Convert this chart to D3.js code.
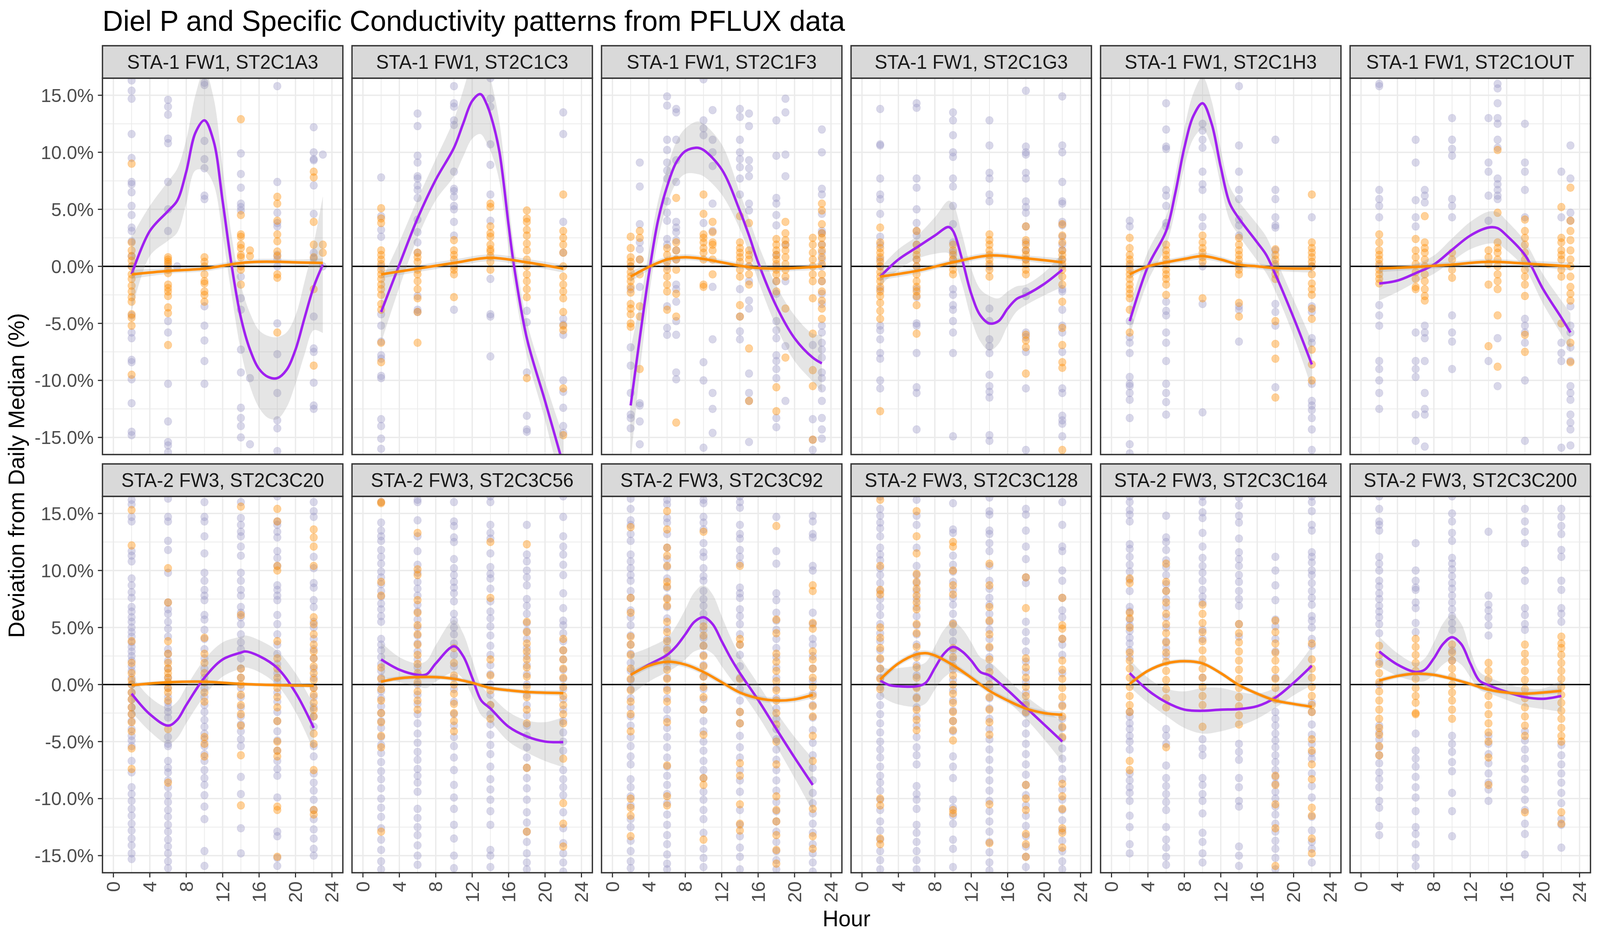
<!DOCTYPE html>
<html>
<head>
<meta charset="utf-8">
<script src="https://cdn.jsdelivr.net/npm/d3@7"></script>
<style>
  html, body { margin: 0; padding: 0; width: 100%; height: 100%; overflow: hidden; background: #fff; }
  svg { display: block; }
  text { font-family: "Liberation Sans", Arial, sans-serif; }
</style>
</head>
<body>
<svg id="chart" viewBox="0 0 4200 2400" width="100%" height="100%" preserveAspectRatio="none"></svg>
<script>
// facet labels, in plotting order
const panelNames = [
  'STA-1 FW1, ST2C1A3', 'STA-1 FW1, ST2C1C3', 'STA-1 FW1, ST2C1F3',
  'STA-1 FW1, ST2C1G3', 'STA-1 FW1, ST2C1H3', 'STA-1 FW1, ST2C1OUT',
  'STA-2 FW3, ST2C3C20', 'STA-2 FW3, ST2C3C56', 'STA-2 FW3, ST2C3C92',
  'STA-2 FW3, ST2C3C128', 'STA-2 FW3, ST2C3C164', 'STA-2 FW3, ST2C3C200'
];
const hourTicks = [0, 4, 8, 12, 16, 20, 24];
const hourMinor = [2, 6, 10, 14, 18, 22];
const pctTicks = [-15, -10, -5, 0, 5, 10, 15];
const pctMinor = [-12.5, -7.5, -2.5, 2.5, 7.5, 12.5];

// observations: [hour, [deviation %]]  (P = phosphorus, S = specific conductivity)
const pA3 = [[2,[16.3,15.4,14.7,11.6,9.5,7.4,7.2,6.5,5.3,4.5,3.4,3.1,2.2,0.9,0,-4.3,-5.8,-6.3,-8.2,-8.4,-9.9,-12,-14.5,-14.8]],
  [6,[14.6,14.0,13.3,11.2,10.8,7.4,5.0,3.1,0,-4.8,-5.8,-10.3,-13.6,-15.4,-15.7,-16.3]],[7,[0]],
  [10,[16.1,15.9,11.0,9.4,8.6,6.2,5.9,-3.5,-5.2,-6.5,-8.3,-10.3]],
  [14,[9.9,8.1,6.9,5.5,5.2,4.9,-0.9,-2.8,-3.8,-7.3,-9.3,-12.4,-13.3,-14.0,-15.0]],[15,[-9.8,-15.6]],
  [18,[15.8,7.4,4.7,3.8,3.5,1.0,0.6,0,-5.0,-7.7,-11.1,-13.5,-14.2,-16.2]],
  [22,[12.2,10.0,9.4,9.3,7.1,4.6,1.2,0.7,-4.4,-7.2,-7.5,-10.2,-12.2,-12.5]],[23,[9.8,0]]];
const sA3 = [[2,[9.0,2.1,1.4,0.9,0.5,0,-0.7,-1.1,-1.7,-2.2,-2.7,-3.1,-4.2,-4.5,-5.2,-9.5]],
  [6,[0.8,0.6,0.4,0.2,-0.3,-0.6,-1.6,-1.9,-2.2,-2.6,-3.6,-4.1,-6.9]],
  [10,[0.8,0.4,0,-0.7,-1.3,-1.5,-2.2,-2.5,-3.1]],
  [14,[12.9,4.5,2.8,2.6,1.9,1.6,1.0,0.8,0,-0.3,-1.6]],[15,[1.4,0.9]],
  [18,[6.1,5.5,4.0,2.8,2.2,1.3,0.9,-0.7,-1.0,-5.8]],
  [22,[8.3,7.8,3.9,1.9,0.8,-2.0,-8.7]],[23,[1.9,1.2]]];

const pC1C3 = [[2,[7.8,4.4,3.2,2.6,0,-4.2,-5.2,-6.6,-7.8,-8.1,-9.6,-9.8,-13.4,-14.0,-15.1,-16.0]],
  [6,[13.4,12.3,9.7,9.1,7.9,7.7,7.1,6.7,6.0,4.1,3.0,2.1,1.2,-2.6,-3.8,-4.0]],
  [10,[15.8,14.3,14.0,12.8,12.4,8.3,6.8,6.6,6.1,5.3,5.0,3.9,2.7,-3.8]],
  [14,[16.5,14.7,14.0,10.7,8.9,6.3,4.0,-1.1,-4.2,-4.4,-7.9]],
  [18,[-3.9,-4.9,-9.3,-13.1,-14.3,-14.5]],
  [22,[13.5,11.6,3.9,1.2,-4.6,-5.1,-6.0,-10.0,-11.0,-12.4,-14.0,-14.6]]];
const sC1C3 = [[2,[5.1,4.2,3.8,1.4,1.0,0.6,0.2,-0.3,-0.7,-1.1,-1.6,-2.0,-2.5,-3.3,-3.8,-6.7,-8.4]],
  [6,[1.2,0.8,0.4,-0.3,-0.7,-1.3,-2.0,-2.8,-4.0,-6.7]],
  [10,[2.3,1.4,1.0,0.6,0,-0.3,-0.7,-2.7]],
  [14,[5.5,5.2,3.5,2.9,2.6,1.9,1.5,1.3,0.9,0.4,-0.3]],
  [18,[4.9,4.2,3.9,3.2,2.7,2.0,1.4,0.6,0,-0.7,-1.3,-2.0,-2.7,-9.8]],
  [22,[6.3,3.1,2.5,1.9,1.2,0,-0.9,-1.6,-2.2,-2.8,-4.0,-5.2,-5.6,-10.7,-14.8]]];

const pF3 = [[2,[0,-2.0,-7.1,-8.7,-11.1,-13.0,-13.3,-14.2]],
  [3,[9.1,7.0,3.7,2.1,1.5,0.6,-1.8,-12.0,-12.2,-13.6,-15.6]],
  [6,[14.9,14.1,11.1,10.2,9.1,8.4,7.7,5.7,4.7,4.0,2.4,1.9,0,-3.5,-5.4,-6.0]],
  [7,[13.8,13.5,11.1,9.3,7.4,3.9,3.4,3.0,2.3,1.4,0.6,-1.6,-2.0,-3.1,-4.8,-6.0,-9.3,-9.9]],
  [10,[16.4,12.8,12.1,11.5,3.8,-8.4,-10.0,-15.9]],
  [11,[13.7,11.1,10.0,8.8,5.5,3.1,-1.8,-6.4,-11.1,-12.5,-14.6]],
  [14,[13.8,13.1,11.1,10.0,9.4,8.7,7.7,6.3,-2.0,-4.4,-5.7,-6.4]],
  [15,[13.4,12.3,9.3,8.6,7.9,5.5,4.9,0,-1.3,-3.0,-3.7,-9.4,-11.1,-11.8,-15.4]],
  [18,[12.8,9.7,6.0,5.5,4.5,3.6,1.0,0,-1.3,-2.4,-4.8,-5.6,-6.3,-7.8,-8.3,-9.0,-9.8,-13.3,-14.1]],
  [19,[14.7,13.5,9.8,7.9,1.9,-1.3,-7.0,-11.8]],
  [22,[-6.9,-13.4,-15.2,-16.1]],
  [23,[12.0,10.0,6.8,6.3,4.6,3.1,2.9,1.9,1.2,0.6,0,-1.3,-2.4,-3.3,-5.2,-5.8,-6.7,-7.3,-8.0,-9.3,-9.8,-10.7,-11.8,-13.3,-14.3,-15.1]]];
const sF3 = [[2,[2.6,1.6,0.8,0.4,0,-0.5,-0.9,-1.3,-1.8,-2.3,-3.3,-3.7,-4.2,-5.0,-5.3]],
  [3,[3.1,2.5,0.6,-0.7,-3.5,-4.4,-9.0]],
  [6,[1.6,1.0,0.4,-0.3,-0.9,-1.6,-2.2,-3.8]],
  [7,[6.0,2.1,1.4,0.6,-0.3,-2.4,-4.4,-13.7]],
  [10,[6.3,4.6,2.8,2.5,2.1,1.6,1.2,0.6,-1.6,-1.8]],
  [11,[3.9,3.0,2.1,1.9,1.4,0.6,-0.7]],
  [14,[4.4,2.1,1.6,1.2,0.8,0.4,-0.3,-0.9,-3.4,-4.4]],
  [15,[3.8,1.4,1.0,0.6,0,-0.7,-1.6,-7.2,-11.8]],
  [18,[2.4,1.9,1.4,1.0,0.6,0.2,-0.3,-0.7,-1.3,-2.2,-10.6,-12.7]],
  [19,[3.9,2.9,2.3,1.9,1.4,0.8,0.2,-0.3,-0.9,-3.7,-8.0]],
  [22,[2.5,1.9,1.2,0.6,0,-0.7,-1.3,-2.8,-5.9,-9.1,-10.5,-15.2]],
  [23,[5.5,4.9,3.7,2.9,2.5,1.9,1.4,0.8,0.2,-0.7,-1.3,-2.2,-3.0,-3.7,-4.6]]];

const pG3 = [[2,[13.8,10.7,10.6,7.7,6.3,5.9,4.6,2.6,1.9,0.6,0,-2.0,-5.2,-5.6,-6.4,-7.6,-8.1,-10.0,-10.7]],
  [6,[14.3,13.9,7.7,6.9,5.0,3.8,3.1,2.7,1.9,0.6,0,-2.0,-2.7,-5.0,-5.2,-7.6,-10.6,-11.1,-14.3]],
  [10,[13.5,12.8,11.5,10.0,9.6,7.7,7.0,5.3,3.7,2.1,1.2,0.6,-2.0,-2.5,-3.4,-3.8,-4.8,-5.8,-7.6,-14.9]],
  [14,[12.8,10.6,8.2,7.7,6.3,5.7,0,-3.7,-4.8,-6.4,-7.0,-7.6,-9.5,-10.5,-11.0,-11.5,-14.8,-15.3]],
  [18,[15.4,10.5,10.0,9.8,8.2,7.7,5.7,5.2,4.7,3.5,2.1,1.4,0.6,-2.2,-2.6,-5.8,-6.2,-7.5,-10.7,-16.1]],
  [22,[14.9,10.6,10.0,7.4,5.7,5.5,3.9,3.6,2.6,1.9,1.4,0.6,0,-2.0,-2.2,-3.8,-5.2,-5.8,-7.5,-10.7,-11.1,-13.1,-13.5,-13.8,-14.9]]];
const sG3 = [[2,[3.4,2.1,1.6,1.2,0.8,0.4,0,-0.5,-0.9,-1.3,-1.8,-2.2,-2.6,-3.2,-3.9,-4.6,-12.7]],
  [6,[3.1,1.9,1.4,1.0,0.6,0,-0.7,-1.3,-1.8,-2.2,-2.6,-3.4,-5.9]],
  [10,[1.9,1.4,1.0,0.6,0.2,-0.3,-0.7]],
  [14,[2.8,2.3,1.9,1.4,1.0,0.6,0.2,-0.3,-0.9]],
  [18,[3.5,2.3,1.9,1.4,1.0,0.6,0.2,-0.3,-0.7,-6.0,-6.5,-7.1,-9.4]],
  [22,[3.7,2.7,2.1,1.4,1.0,0.6,0.2,-0.3,-0.9,-1.6,-3.1,-5.4,-6.9,-8.4,-8.9,-16.1]]];

const pH3 = [[2,[4.0,3.5,0,-4.8,-6.2,-6.7,-7.6,-9.7,-10.3,-10.5,-11.1,-11.7,-13.3,-15.6,-16.4]],
  [6,[14.3,12.0,10.5,10.3,6.7,6.2,5.3,3.8,3.5,-3.1,-3.9,-4.3,-5.8,-6.7,-8.3,-10.3,-11.1,-11.9,-13.0]],
  [10,[12.5,11.9,11.1,10.4,8.3,7.2,6.7,4.3,3.5,0,-3.3,-12.8]],
  [14,[15.8,10.6,8.3,6.7,5.9,4.1,3.6,2.7,0,-3.5,-3.8,-6.6]],
  [18,[11.1,6.7,5.9,4.3,3.6,3.4,1.4,0,-3.3,-4.0,-5.2,-10.6]],
  [22,[4.3,0,-3.5,-4.0,-6.3,-6.7,-10.3,-11.8,-12.2,-12.6,-13.3,-14.3,-16.1]]];
const sH3 = [[2,[2.5,1.6,1.0,0.6,0.2,-0.3,-0.7,-1.1,-1.6,-2.0,-2.4,-2.8,-3.8,-5.8]],
  [6,[1.9,1.4,1.0,0.6,0.2,-0.3,-0.7,-1.1,-1.6,-2.5]],
  [10,[2.7,2.1,1.6,1.2,0.8,0.4,-2.8]],
  [14,[2.5,1.9,1.4,1.0,0.6,0.2,-0.3,-0.7,-3.2,-4.4]],
  [18,[1.5,1.0,0.6,0.2,-0.3,-0.7,-1.1,-4.8,-6.8,-8.1,-11.5]],
  [22,[6.3,2.1,1.6,1.2,0.8,0.4,0,-0.7,-1.5,-2.0,-2.5,-3.7,-4.6,-7.3,-8.6,-10.0]]];

const pOUT = [[2,[16.0,15.8,6.7,5.9,5.3,4.3,0,-3.4,-4.3,-5.2,-8.3,-9.0,-10.0,-11.1,-12.5]],
  [6,[11.1,9.1,5.8,4.3,3.5,-5.8,-8.3,-9.0,-9.7,-13.0,-15.3]],
  [7,[6.7,6.2,5.6,-5.2,-5.8,-6.3,-8.3,-11.1,-12.5,-13.0,-15.8]],
  [10,[13.0,11.1,10.3,9.7,5.9,5.3,4.3,-4.3,-5.8,-6.6,-9.0]],
  [14,[13.0,9.1,8.3,6.2,4.0,-8.3]],
  [15,[16.0,15.6,14.3,13.0,12.5,11.1,10.4,7.7,7.2,6.7,6.2,5.9,-6.3,-10.5]],
  [18,[12.5,9.1,8.3,6.7,4.3,-4.6,-5.2,-5.8,-6.7,-10.0,-15.3]],
  [22,[8.3,4.3,-6.7,-7.6,-8.3,-15.9]],
  [23,[10.6,7.7,4.7,4.0,-3.5,-5.2,-5.8,-7.1,-8.3,-10.5,-11.1,-11.7,-13.0,-13.7,-14.3,-15.7]]];
const sOUT = [[2,[2.8,2.1,1.4,1.0,0.6,0.2,-0.3,-0.7,-1.1,-1.5]],
  [6,[2.4,1.4,0.8,0.2,-0.5,-1.1,-1.8,-2.0]],
  [7,[4.4,2.1,1.6,1.2,0.6,0,-0.7,-1.3,-2.0,-2.6,-3.0]],
  [10,[1.2,0.6,-0.3,-1.0]],
  [14,[1.4,0.8,0.2,-1.6,-7.0]],
  [15,[10.2,4.7,2.1,1.6,1.2,0.6,0,-0.7,-1.3,-2.0,-4.3,-8.8]],
  [18,[4.1,3.1,2.5,1.9,1.2,0.6,-0.3,-0.9,-1.6,-2.6,-6.0,-7.5]],
  [22,[5.2,2.5,2.1,1.4,1.0,0.6,-0.3,-0.9,-5.0]],
  [23,[6.9,4.0,3.1,2.3,1.4,0.6,0,-0.9,-1.8,-2.4,-3.0,-6.7,-8.4]]];

const pC20 = [[2,[16.2,15.8,14.7,14.3,11.7,11.3,10.8,9.3,8.7,8.1,7.6,6.8,6.4,5.9,5.5,5.0,4.6,4.2,3.7,3.3,2.9,2.5,2.1,1.6,1.2,0.6,0,-0.7,-1.3,-2.0,-2.6,-3.2,-3.9,-4.5,-4.9,-5.4,-6.7,-7.7,-9.0,-9.6,-10.2,-10.9,-11.5,-12.2,-12.8,-13.5,-14.1,-14.8,-15.3]],
  [6,[16.3,14.7,14.3,12.6,11.8,9.8,7.2,6.6,6.2,5.5,4.9,4.2,3.1,2.7,2.1,1.4,0.6,-0.3,-1.1,-1.6,-2.0,-2.4,-2.9,-4.6,-5.2,-5.4,-6.7,-7.3,-7.7,-8.4,-9.0,-9.7,-10.3,-11.0,-11.6,-12.3,-12.9,-13.6,-14.2,-14.8,-15.5,-16.1]],
  [10,[16.0,14.7,14.3,13.0,11.5,9.8,9.1,8.3,7.8,7.4,6.1,5.7,4.8,4.0,3.1,2.3,1.4,0.6,-0.3,-1.1,-1.8,-2.4,-3.1,-3.7,-4.3,-4.8,-5.4,-6.1,-6.7,-7.5,-8.2,-8.8,-9.7,-10.7,-11.8,-14.6,-15.9]],
  [14,[16.0,14.6,14.0,13.4,13.0,12.1,11.3,9.8,9.1,8.3,7.8,6.8,6.3,5.9,5.3,4.4,3.7,3.1,2.3,1.4,0.6,-0.3,-1.1,-2.0,-2.8,-3.5,-4.1,-4.8,-5.4,-8.1,-9.6,-12.6,-14.8]],
  [18,[16.5,14.3,14.0,13.4,12.9,11.7,11.1,10.4,8.7,8.3,7.8,7.4,6.1,5.3,4.4,3.5,2.7,1.8,1.0,0.2,-0.7,-1.5,-2.4,-3.2,-4.1,-4.9,-5.8,-6.7,-7.4,-8.0,-9.9,-12.9,-13.3,-15.2,-15.9]],
  [22,[16.0,15.2,14.7,11.2,10.2,8.9,8.5,7.4,6.8,5.5,5.0,4.0,3.1,2.3,1.4,0.6,-0.3,-1.1,-2.0,-2.8,-3.7,-5.4,-6.3,-7.8,-8.6,-9.3,-10.1,-11.0,-11.8,-12.7,-13.5,-14.4,-15.0]]];
const sC20 = [[2,[15.3,12.2,3.8,1.9,1.0,0.4,0,-0.7,-1.3,-2.0,-2.6,-3.3,-4.1,-5.6,-7.4]],
  [6,[10.2,7.2,3.8,2.7,1.9,1.4,1.0,0.6,0.2,-0.3,-0.7,-1.4,-3.9,-8.6]],
  [10,[4.1,2.7,1.9,1.0,0.2,-0.7,-1.5,-4.6,-5.2,-6.3]],
  [14,[15.6,6.1,1.4,0.6,0,-0.9,-1.8,-2.6,-3.6,-6.2,-10.6]],
  [18,[15.4,14.3,10.4,10.0,3.8,2.3,1.4,0.6,-0.3,-1.1,-2.0,-3.2,-5.0,-5.8,-6.3,-10.7,-11.0,-15.1]],
  [22,[13.6,12.9,12.1,10.4,5.9,5.3,4.4,3.5,2.9,2.3,1.6,1.0,0.4,-0.3,-0.9,-1.6,-2.2,-2.8,-4.3,-5.2,-7.5,-11.0,-11.4]]];

const pC56 = [[2,[16.0,14.2,13.5,13.0,12.6,11.8,11.2,10.6,9.9,9.4,8.8,8.2,7.7,7.1,6.6,6.0,5.5,4.0,3.5,3.0,2.4,1.8,1.2,0.6,0,-0.6,-1.2,-1.9,-2.5,-3.2,-3.8,-4.6,-5.3,-6.0,-6.8,-7.6,-8.3,-9.1,-10.0,-10.8,-11.6,-12.6,-13.6,-14.5,-15.5,-16.2]],
  [6,[16.2,16.0,14.4,13.0,11.7,10.5,9.8,9.0,8.4,7.8,7.0,6.4,5.7,5.0,4.3,3.6,2.9,2.2,1.5,0.8,0,-0.9,-1.7,-2.6,-3.4,-4.3,-5.1,-5.9,-6.6,-7.4,-8.0,-8.6,-9.4,-10.9,-11.7,-12.5,-13.2,-14.1,-15.0,-15.8]],
  [10,[16.0,14.3,13.9,12.9,12.5,11.0,10.2,9.6,9.0,8.5,8.0,7.3,6.2,5.6,5.0,4.4,3.6,2.6,1.6,0.6,-0.4,-1.5,-2.6,-3.6,-4.6,-5.4,-6.4,-7.5,-8.8,-9.9,-10.9,-12.3,-13.5,-15.0,-16.1]],
  [14,[16.5,16.0,14.0,13.3,12.8,11.5,10.3,9.7,9.3,8.4,7.3,6.4,5.8,5.1,4.3,3.4,2.6,1.7,0.9,0,-0.9,-1.8,-2.6,-3.5,-4.4,-5.3,-6.1,-7.2,-8.3,-9.2,-10.1,-11.1,-12.3,-14.5,-15.0,-16.0]],
  [18,[14.0,11.4,10.8,10.0,9.4,8.7,7.5,6.9,6.2,5.4,4.7,4.0,3.2,2.5,1.7,0.9,0,-0.9,-1.8,-2.7,-3.6,-4.5,-5.5,-6.4,-7.3,-8.2,-9.1,-10.1,-11.2,-12.1,-12.9,-13.8,-14.8,-15.6,-16.2]],
  [22,[16.5,14.7,13.0,12.1,11.4,10.5,9.6,8.0,6.7,5.6,5.2,4.5,3.8,3.0,2.2,1.3,0.5,-0.4,-1.3,-2.2,-3.2,-4.2,-5.0,-5.8,-7.5,-8.3,-9.0,-9.7,-11.2,-12.6,-13.9,-14.8,-15.6,-16.4]]];
const sC56 = [[2,[16.0,15.9,9.0,7.8,1.5,0.5,-0.4,-1.4,-2.5,-3.3,-4.5,-5.5,-12.9]],
  [6,[13.3,10.1,9.6,7.4,6.3,5.2,4.4,3.5,2.6,1.8,1.0,0.2,-0.6,-1.4,-2.2]],
  [10,[3.2,1.9,0.8,0,-0.8,-1.7,-2.5,-3.2,-4.1]],
  [14,[12.5,7.6,2.2,0.8,-0.5,-1.8,-3.0]],
  [18,[12.3,5.5,4.6,3.6,2.9,2.2,1.5,0.7,-0.2,-1.1,-2.2,-3.4,-7.3,-12.9]],
  [22,[4.0,3.0,2.2,1.4,0.6,-0.2,-1.0,-1.8,-2.6,-3.4,-6.5,-10.4,-12.2,-14.2]]];

const pC92 = [[2,[16.3,15.4,14.4,14.0,13.2,12.6,11.4,10.8,10.2,9.6,9.1,8.2,7.6,6.5,5.9,5.2,4.3,3.5,2.7,1.9,1.2,0.4,-0.4,-1.2,-2.0,-2.8,-3.6,-4.6,-5.4,-6.3,-7.0,-8.3,-9.0,-9.8,-10.6,-11.8,-12.5,-13.7,-14.6,-15.5,-16.1]],
  [6,[16.2,15.8,14.6,14.2,13.2,12.0,11.0,10.3,9.3,8.5,7.6,6.8,5.8,4.9,4.0,3.2,2.4,1.6,0.6,-0.3,-1.2,-2.2,-3.0,-3.8,-4.6,-5.5,-6.4,-7.2,-8.0,-8.8,-9.6,-10.4,-11.4,-12.3,-13.2,-14.0,-14.9,-15.7,-16.2]],
  [10,[16.2,15.9,14.7,14.2,13.6,12.4,11.6,11.2,10.2,9.5,9.1,8.2,7.5,6.9,6.2,5.5,4.8,4.1,3.4,2.6,1.7,0.7,-0.4,-1.3,-2.2,-3.2,-4.1,-5.0,-5.8,-6.7,-7.5,-8.2,-9.4,-10.1,-11.0,-11.8,-13.0,-14.4,-15.2,-16.0]],
  [14,[16.5,16.0,15.5,14.0,13.2,12.8,11.8,11.2,10.6,8.5,8.0,7.6,6.6,6.0,5.3,4.4,3.5,2.6,1.6,0.6,-0.4,-1.4,-2.4,-3.4,-4.5,-5.5,-6.4,-7.5,-8.4,-9.4,-11.0,-12.3,-13.3,-14.3,-15.1,-16.2]],
  [18,[14.7,11.7,10.6,8.0,7.4,6.3,5.6,4.8,4.0,3.2,2.4,1.5,0.6,-0.3,-1.2,-2.1,-3.0,-3.9,-4.8,-5.7,-6.6,-7.5,-8.4,-9.3,-10.3,-11.1,-12.0,-12.9,-13.8,-14.6,-15.4,-16.2]],
  [22,[14.8,14.3,13.2,12.9,10.4,10.0,6.3,5.3,4.0,3.5,2.5,1.4,0.3,-0.8,-1.8,-2.9,-4.0,-5.1,-6.2,-7.3,-8.4,-9.5,-10.4,-11.3,-12.2,-13.0,-14.0,-14.8,-15.6,-16.4]]];
const sC92 = [[2,[13.8,7.6,6.3,4.2,3.5,2.6,1.4,0.5,-0.5,-1.5,-2.6,-4.1,-10.0,-10.8,-11.5,-13.3]],
  [6,[15.2,13.6,12.0,11.3,10.4,9.0,8.6,7.5,6.9,5.5,4.6,3.8,3.0,2.1,1.3,0.5,-0.5,-1.5,-3.3,-7.1,-9.8,-10.6]],
  [10,[13.4,5.1,4.3,3.4,2.5,1.6,0.7,-0.2,-1.1,-2.2,-4.4,-8.2,-8.8,-13.6]],
  [14,[10.4,4.0,3.5,0.5,-2.4,-3.4,-6.9,-8.0,-10.5,-12.2,-12.8]],
  [18,[13.9,5.7,4.5,2.7,2.0,1.2,0.3,-0.5,-1.4,-2.5,-3.5,-5.0,-7.0,-9.8,-11.0,-12.0,-13.2,-14.5,-15.7]],
  [22,[8.7,8.2,5.4,4.9,2.9,2.2,1.4,0.6,-0.2,-1.0,-1.9,-2.8,-4.5,-6.7,-10.9,-13.3,-14.4]]];

const pC128 = [[2,[16.5,15.4,14.8,14.2,13.7,13.0,12.0,11.4,10.9,10.2,9.6,8.9,8.2,7.5,6.8,6.1,5.3,4.5,3.8,3.0,2.2,1.4,0.6,-0.2,-1.0,-1.8,-2.6,-3.4,-4.2,-5.0,-5.7,-6.4,-7.2,-8.0,-8.6,-9.3,-10.1,-11.0,-12.0,-12.8,-13.6,-14.6,-15.4,-16.2]],
  [6,[16.2,14.8,14.0,12.0,10.4,9.6,8.9,8.2,7.5,6.8,6.0,5.2,4.4,3.5,2.6,1.7,0.8,-0.2,-1.1,-2.0,-2.8,-3.6,-4.6,-5.5,-6.2,-7.0,-8.9,-9.6,-10.1,-10.9,-12.3,-13.0,-13.8,-14.6,-15.4,-16.2]],
  [10,[15.9,13.6,13.3,11.3,10.5,9.9,9.0,8.3,7.6,7.0,6.2,5.4,4.6,3.8,3.0,2.2,1.3,0.4,-0.5,-1.4,-2.3,-3.2,-4.1,-6.3,-7.2,-8.2,-10.1,-10.8,-11.5,-12.2,-13.6,-14.4,-16.0]],
  [14,[16.4,15.2,14.9,13.5,13.2,12.4,11.7,10.4,9.1,8.4,7.6,7.0,6.2,5.5,4.8,4.0,3.2,2.4,1.5,0.6,-0.3,-1.2,-2.1,-3.0,-3.9,-4.8,-5.7,-6.6,-7.5,-8.4,-9.3,-10.2,-11.1,-12.0,-12.9,-13.8,-14.7,-15.6,-16.3]],
  [18,[15.4,14.9,13.5,12.1,11.0,9.4,8.9,5.5,4.6,3.8,2.9,2.0,1.1,0.2,-0.7,-1.6,-2.5,-3.4,-4.3,-5.2,-6.1,-7.0,-7.9,-8.8,-9.7,-10.6,-11.5,-12.4,-13.3,-14.2,-15.1,-16.0]],
  [22,[16.0,14.0,12.1,11.7,10.0,9.1,7.6,6.5,5.9,4.0,3.5,2.6,1.0,-1.8,-3.0,-3.8,-4.7,-5.6,-6.5,-7.4,-8.3,-9.2,-10.1,-11.0,-11.9,-12.8,-13.7,-14.6,-15.5,-16.2]]];
const sC128 = [[2,[16.2,10.4,8.3,7.9,5.0,4.1,3.2,2.3,1.4,0.5,-0.4,-10.0,-10.6,-13.5,-14.0]],
  [6,[15.2,13.0,11.5,9.7,9.0,8.4,7.8,7.2,6.6,5.3,4.5,3.3,2.4,1.5,0.6,-0.3,-1.2,-2.2,-3.1,-4.0]],
  [10,[12.5,12.1,10.0,8.7,7.9,5.3,3.2,2.4,1.6,0.8,0,-0.8,-1.6,-2.4,-3.2,-4.0,-4.9,-11.0,-11.3]],
  [14,[10.6,8.7,6.8,5.6,4.4,3.3,2.2,1.1,0,-1.1,-2.2,-3.3,-4.4,-10.5,-13.9]],
  [18,[9.4,6.7,2.3,1.5,0.6,-0.2,-1.0,-1.8,-2.4,-8.8,-10.0,-11.0,-13.1,-14.0,-15.1]],
  [22,[7.6,5.2,4.9,4.0,2.1,1.3,0.5,-0.3,-1.1,-1.9,-2.8,-3.7,-4.6,-8.7,-9.8,-10.9,-12.6,-13.0,-14.3]]];

const pC164 = [[2,[16.5,16.0,15.3,14.9,14.3,12.3,11.9,11.2,10.5,9.9,9.2,8.2,6.8,6.4,5.7,5.2,4.7,4.1,3.6,3.0,2.4,-2.4,-2.8,-3.4,-3.9,-4.5,-5.0,-5.7,-7.8,-8.4,-9.0,-9.5,-10.2,-11.5,-12.5,-14.0,-14.8]],
  [6,[14.8,12.9,12.5,11.8,10.9,10.3,9.6,8.8,8.2,7.5,6.8,5.9,5.0,3.8,3.2,2.5,-3.9,-4.5,-5.2,-7.1,-8.2,-8.9,-9.6,-10.3,-11.0,-12.5,-13.6,-14.3,-15.1,-15.8]],
  [10,[16.5,16.0,15.1,14.6,13.3,12.1,11.1,10.4,9.8,9.1,8.3,7.7,7.2,4.8,4.0,0.6,-4.8,-5.6,-6.2,-8.2,-8.8,-9.6,-10.2,-11.3,-13.0,-13.8,-14.8,-15.6]],
  [14,[16.4,15.7,14.8,14.2,12.8,11.6,11.0,10.4,9.6,9.0,8.2,7.5,6.9,5.3,4.2,-5.2,-5.9,-6.6,-8.2,-9.0,-10.2,-10.7,-14.2,-15.0,-15.9]],
  [18,[11.2,10.0,8.7,7.4,5.7,5.1,4.0,2.9,0.6,-2.4,-3.0,-3.6,-4.3,-4.9,-5.5,-6.2,-6.8,-7.5,-8.1,-8.7,-9.4,-10.0,-10.7,-11.4,-12.2,-12.9,-13.7,-14.4,-15.2,-16.2]],
  [22,[16.5,16.0,15.2,14.0,13.5,11.6,11.2,10.7,10.0,9.6,8.9,8.2,7.6,7.0,6.0,5.6,5.0,4.0,3.4,-1.6,-2.4,-3.5,-4.4,-5.2,-6.0,-6.5,-7.8,-8.9,-9.9,-11.6,-12.8,-13.8,-14.4,-15.6]]];
const sC164 = [[2,[9.3,8.9,6.3,5.8,5.0,2.8,2.1,1.4,0.6,-0.2,-1.0,-1.8,-2.4,-6.7,-7.5]],
  [6,[10.6,9.0,8.2,7.2,6.2,5.3,4.5,3.7,2.8,2.0,1.2,0.4,-0.4,-1.2,-2.0,-5.5]],
  [10,[7.0,6.2,5.4,4.6,3.8,3.0,2.2,1.4,0.6,-0.2,-1.0,-1.8,-3.7]],
  [14,[5.3,4.5,3.7,2.9,2.1,1.3,0.5,-0.3,-1.1,-1.9,-2.7,-3.5]],
  [18,[5.6,4.6,3.6,2.8,2.1,1.3,0.5,-0.3,-1.3,-8.0,-8.8,-10.5,-12.6,-15.9]],
  [22,[3.6,2.2,1.4,0.6,-0.2,-1.0,-1.8,-2.4,-4.8,-5.8,-7.0,-8.3,-10.8,-11.5,-13.5,-14.8]]];

const pC200 = [[2,[16.5,15.4,14.3,14.0,13.5,11.2,10.6,10.0,9.1,8.6,8.0,7.5,6.9,6.4,5.9,5.3,4.5,2.0,0,-3.6,-4.2,-4.8,-5.5,-6.2,-6.9,-7.7,-8.3,-9.0,-10.2,-10.8,-12.4,-13.2]],
  [6,[12.4,10.0,9.1,8.5,8.3,7.2,6.7,5.4,4.6,-4.3,-5.8,-6.5,-7.2,-8.1,-9.0,-9.9,-11.1,-12.5,-13.1,-14.0,-15.2,-15.9]],
  [10,[16.5,15.0,14.3,13.3,12.6,11.1,10.6,10.1,9.5,8.9,8.4,7.8,7.2,6.6,6.0,5.4,4.8,3.0,2.1,-4.5,-5.2,-5.9,-6.8,-7.6,-9.5,-11.1,-13.3]],
  [14,[13.4,7.8,7.0,6.5,5.9,5.2,4.3,-4.5,-5.2,-6.1,-6.9,-7.8,-8.6,-9.2,-10.2]],
  [18,[15.4,14.3,13.4,12.4,10.0,9.1,6.7,6.1,5.3,4.8,-4.1,-4.9,-5.7,-6.5,-7.4,-8.3,-9.2,-10.1,-11.0,-12.2,-13.1,-14.9]],
  [22,[15.4,14.7,13.9,13.2,11.8,11.2,9.1,8.3,6.7,6.2,5.5,-5.3,-6.2,-7.0,-7.8,-8.6,-9.5,-10.4,-11.8,-12.3,-14.3]]];
const sC200 = [[2,[3.4,2.6,1.8,1.0,0.2,-0.6,-1.4,-2.2,-3.0,-3.8,-4.4,-5.4,-6.2]],
  [6,[4.0,3.3,2.6,1.9,1.2,0.5,-0.3,-1.0,-1.6,-2.5,-2.6]],
  [10,[3.5,2.8,2.1,1.4,0.7,0,-0.7,-1.4,-2.2,-3.0]],
  [14,[1.9,1.2,0.5,-0.2,-1.0,-1.8,-2.6,-3.4,-4.2,-5.0,-6.4,-8.8]],
  [18,[3.5,2.7,2.0,1.2,0.4,-0.4,-1.2,-2.0,-2.8,-3.6,-4.5,-11.2]],
  [22,[4.2,3.6,3.2,2.6,1.9,1.2,0.5,-0.2,-0.9,-1.6,-2.3,-3.0,-3.8,-4.5,-5.0,-11.2,-12.2]]];

// loess fits: [hour, fit %, standard error %]
const fitP = [
  [[2,-0.7,3.3],[4,3.1,2.2],[6,4.85,2.6],[7,5.75,2.8],[8,8.3,2.8],[9,11.7,3.3],[10,12.8,4.4],[11,11.0,3.8],[12,5.7,3.0],[13,0,2.6],[14,-4.5,2.9],[15,-7.3,3.2],[16,-9.0,3.4],[17,-9.7,3.6],[18,-9.8,3.6],[19,-9.1,3.3],[20,-7.3,3.0],[21,-4.5,3.2],[22,-1.8,3.8],[23,0.15,6.0]],
  [[2,-4.0,2.7],[4,0.15,2.0],[6,4.2,1.7],[8,7.6,1.8],[10,10.4,2.5],[11,12.5,2.9],[12,14.5,3.3],[12.9,15.1,3.5],[13.6,14.2,3.4],[14.3,12.5,3.0],[15,10.0,2.6],[16,3.6,2.0],[16.6,0,1.7],[18,-6.3,1.5],[20,-11.8,1.7],[22,-17.4,2.5]],
  [[2,-12.2,5.0],[3,-6.3,3.0],[4,-0.7,2.0],[5,4.0,1.7],[6,7.0,1.6],[7,9.1,1.8],[8,10.1,2.0],[9.3,10.4,2.3],[10,10.2,2.3],[12,8.5,2.2],[14,4.85,1.6],[15,2.7,1.5],[16,0.35,1.6],[18,-3.5,1.8],[20,-6.3,2.0],[22,-8.0,2.1],[23,-8.5,2.5]],
  [[2,-0.9,0.8],[4,0.6,0.9],[6,1.65,1.0],[8,2.7,1.6],[9.5,3.45,2.3],[10,3.1,2.4],[11,0.6,2.2],[12,-2.4,2.2],[13,-4.3,2.3],[14,-5.0,2.4],[15,-4.8,2.0],[16,-3.7,1.5],[17,-2.85,1.1],[18,-2.5,0.9],[20,-1.55,1.0],[22,-0.3,1.5]],
  [[2,-4.8,1.3],[4,0,1.3],[6,3.1,1.3],[7,6.4,1.5],[8,10.4,1.7],[9,13.2,2.0],[10,14.3,2.3],[11,12.5,2.0],[12,8.7,1.6],[13,5.5,1.5],[14,4.2,1.5],[16,2.1,1.6],[17,1.0,1.6],[18,-0.7,1.5],[20,-4.5,1.6],[22,-8.6,2.1]],
  [[2,-1.5,1.5],[4,-1.25,1.0],[6,-0.6,0.8],[8,0.15,0.8],[10,1.45,1.0],[12,2.7,1.2],[14,3.4,1.4],[15,3.35,1.4],[16,2.7,1.3],[18,1.0,1.2],[20,-2.0,1.3],[22,-4.5,1.5],[23,-5.8,1.7]],
  [[2,-0.8,1.6],[4,-2.6,1.5],[6,-3.6,1.6],[7,-3.1,1.6],[8,-1.8,1.6],[10,0.6,1.6],[12,2.2,1.5],[14,2.8,1.4],[14.5,2.9,1.4],[16,2.5,1.4],[18,1.45,1.5],[20,-0.7,1.7],[22,-3.8,2.0]],
  [[2,2.2,1.5],[4,1.3,1.1],[6,0.85,1.0],[7,0.9,1.2],[8,1.85,1.6],[10,3.35,2.3],[11,2.5,2.0],[12,0.6,1.6],[13,-1.4,1.3],[14,-2.1,1.2],[16,-3.7,1.3],[18,-4.55,1.4],[20,-5.0,1.7],[22,-5.05,2.2]],
  [[2,0.85,1.8],[4,1.75,1.5],[6,2.6,1.5],[7,3.35,1.8],[8,4.4,2.2],[9,5.5,2.6],[10,5.9,2.8],[11,5.3,2.6],[12,3.8,2.2],[13,2.3,1.8],[14,1.0,1.5],[16,-1.35,1.4],[18,-3.9,1.5],[20,-6.4,1.8],[22,-8.8,2.3]],
  [[2,0.35,1.3],[3,-0.05,1.4],[4,-0.15,1.6],[6,-0.15,1.8],[7,0.15,1.8],[8,1.45,1.9],[9,2.7,2.1],[10,3.3,2.2],[11,2.9,2.0],[12,2.1,1.6],[13,1.1,1.3],[14,0.8,1.2],[16,-0.5,1.0],[18,-2.0,1.0],[20,-3.5,1.3],[22,-5.0,1.8]],
  [[2,1.0,1.2],[4,-0.5,1.1],[6,-1.55,1.2],[8,-2.2,1.6],[10,-2.3,2.0],[12,-2.2,1.9],[14,-2.15,1.5],[16,-1.9,1.1],[18,-1.15,0.9],[20,0.15,1.1],[22,1.65,1.7]],
  [[2,2.9,1.3],[4,1.75,1.0],[6,1.1,0.8],[7,1.3,1.0],[8,2.3,1.4],[9,3.55,1.8],[10,4.15,2.0],[11,3.55,1.8],[12,1.85,1.2],[13,0.35,0.8],[14,-0.05,0.7],[16,-0.65,0.7],[18,-1.1,0.8],[20,-1.25,0.9],[22,-1.0,1.4]]
];
const fitS = [
  [[2,-0.7,0.4],[6,-0.4,0.25],[10,-0.2,0.25],[12,0.05,0.25],[14,0.3,0.25],[16,0.4,0.25],[18,0.4,0.25],[20,0.35,0.25],[23,0.3,0.4]],
  [[2,-0.7,0.35],[6,-0.2,0.3],[10,0.3,0.3],[14,0.75,0.3],[18,0.35,0.3],[22,-0.2,0.35]],
  [[2,-0.9,0.45],[4,-0.05,0.3],[6,0.6,0.25],[8,0.8,0.25],[10,0.65,0.25],[12,0.35,0.25],[14,0.05,0.25],[16,-0.15,0.25],[18,-0.2,0.25],[20,-0.15,0.25],[23,0,0.3]],
  [[2,-0.9,0.3],[6,-0.4,0.25],[10,0.35,0.25],[14,0.95,0.25],[18,0.7,0.25],[22,0.35,0.35]],
  [[2,-0.7,0.3],[4,0,0.25],[6,0.35,0.25],[8,0.65,0.25],[10,0.9,0.3],[12,0.6,0.25],[14,0.15,0.25],[16,0,0.25],[18,-0.15,0.25],[22,-0.2,0.35]],
  [[2,-0.2,0.3],[6,-0.05,0.25],[10,0.15,0.25],[14,0.4,0.25],[18,0.25,0.25],[23,0,0.35]],
  [[2,-0.05,0.2],[6,0.2,0.15],[10,0.25,0.15],[14,0.05,0.15],[18,-0.05,0.15],[22,-0.1,0.2]],
  [[2,0.25,0.25],[4,0.55,0.2],[6,0.65,0.2],[8,0.65,0.2],[10,0.5,0.2],[12,0.15,0.2],[14,-0.3,0.2],[16,-0.5,0.2],[18,-0.65,0.2],[22,-0.75,0.25]],
  [[2,0.85,0.3],[4,1.65,0.25],[6,2.0,0.25],[8,1.75,0.25],[10,1.1,0.25],[12,0.2,0.25],[14,-0.7,0.25],[16,-1.2,0.25],[18,-1.4,0.25],[20,-1.3,0.25],[22,-0.9,0.3]],
  [[2,0.45,0.3],[4,1.85,0.25],[6,2.65,0.25],[7,2.75,0.25],[8,2.55,0.25],[10,1.7,0.25],[12,0.6,0.25],[14,-0.55,0.25],[16,-1.4,0.25],[18,-2.1,0.25],[20,-2.5,0.25],[22,-2.65,0.3]],
  [[2,0.05,0.25],[4,1.2,0.2],[6,1.85,0.2],[8,2.05,0.2],[10,1.85,0.2],[12,1.0,0.2],[14,-0.05,0.2],[16,-0.8,0.2],[18,-1.4,0.2],[20,-1.7,0.2],[22,-1.95,0.25]],
  [[2,0.35,0.25],[4,0.75,0.2],[6,0.95,0.2],[8,0.85,0.2],[10,0.5,0.2],[12,0.05,0.2],[14,-0.45,0.2],[16,-0.7,0.2],[18,-0.8,0.2],[20,-0.7,0.2],[22,-0.55,0.25]]
];

const pointsP = [pA3, pC1C3, pF3, pG3, pH3, pOUT, pC20, pC56, pC92, pC128, pC164, pC200];
const pointsS = [sA3, sC1C3, sF3, sG3, sH3, sOUT, sC20, sC56, sC92, sC128, sC164, sC200];

// ---- layout ----
const colP = '#9E9AC8', colS = '#FF8C00';
const lineP = '#A020F0', lineS = '#FF8C00';
const left0 = 269, colStep = 655, panelW = 631;
const top0 = 117, rowStep = 1070, stripH = 83, panelH = 963;

const svg = d3.select('#chart');
svg.append('rect').attr('width', 4200).attr('height', 2400).attr('fill', '#fff');

const x = d3.scaleLinear().domain([-1.2, 25.2]).range([0, panelW]);
const y = d3.scaleLinear().domain([-16.5, 16.5]).range([panelH, 0]);
const pct = (d) => d.toFixed(1) + '%';

const flat = (cols) => cols.flatMap(([h, vals]) => vals.map((v) => ({ h, v })));
const curve = d3.curveCatmullRom.alpha(0.5);
const band = d3.area().curve(curve)
    .x((d) => x(d[0])).y0((d) => y(d[1] - d[2])).y1((d) => y(d[1] + d[2]));
const fitLine = d3.line().curve(curve).x((d) => x(d[0])).y((d) => y(d[1]));

panelNames.forEach((name, i) => {
    const col = i % 6, row = Math.floor(i / 6);
    const px = left0 + col * colStep;
    const sy = top0 + row * rowStep;
    const g = svg.append('g').attr('transform', `translate(${px},${sy + stripH})`);

    // strip
    svg.append('rect')
        .attr('x', px).attr('y', sy).attr('width', panelW).attr('height', stripH)
        .attr('fill', '#D9D9D9').attr('stroke', '#333333').attr('stroke-width', 3.5);
    svg.append('text')
        .attr('x', px + panelW / 2).attr('y', sy + stripH / 2).attr('dy', '0.35em')
        .attr('text-anchor', 'middle').attr('font-size', 50).attr('fill', '#1A1A1A')
        .text(name);

    // grid
    const grid = g.append('g');
    grid.selectAll('.vmin').data(hourMinor).enter().append('line')
        .attr('x1', (d) => x(d)).attr('x2', (d) => x(d)).attr('y1', 0).attr('y2', panelH)
        .attr('stroke', '#EBEBEB').attr('stroke-width', 2);
    grid.selectAll('.hmin').data(pctMinor).enter().append('line')
        .attr('x1', 0).attr('x2', panelW).attr('y1', (d) => y(d)).attr('y2', (d) => y(d))
        .attr('stroke', '#EBEBEB').attr('stroke-width', 2);
    grid.selectAll('.vmaj').data(hourTicks).enter().append('line')
        .attr('x1', (d) => x(d)).attr('x2', (d) => x(d)).attr('y1', 0).attr('y2', panelH)
        .attr('stroke', '#EBEBEB').attr('stroke-width', 3.5);
    grid.selectAll('.hmaj').data(pctTicks).enter().append('line')
        .attr('x1', 0).attr('x2', panelW).attr('y1', (d) => y(d)).attr('y2', (d) => y(d))
        .attr('stroke', '#EBEBEB').attr('stroke-width', 3.5);

    const clipId = `clip${i}`;
    g.append('clipPath').attr('id', clipId)
        .append('rect').attr('width', panelW).attr('height', panelH);
    const body = g.append('g').attr('clip-path', `url(#${clipId})`);

    // points
    [[pointsP[i], colP], [pointsS[i], colS]].forEach(([cols, c]) => {
        body.append('g').selectAll('circle').data(flat(cols)).enter().append('circle')
            .attr('cx', (d) => x(d.h)).attr('cy', (d) => y(d.v)).attr('r', 10)
            .attr('fill', c).attr('fill-opacity', 0.4)
            .attr('stroke', c).attr('stroke-opacity', 0.25).attr('stroke-width', 1.5);
    });

    // zero reference
    body.append('line')
        .attr('x1', 0).attr('x2', panelW).attr('y1', y(0)).attr('y2', y(0))
        .attr('stroke', '#000').attr('stroke-width', 3.5);

    // smooths
    [[fitP[i], lineP], [fitS[i], lineS]].forEach(([fit, c]) => {
        body.append('path').datum(fit).attr('d', band)
            .attr('fill', '#999999').attr('fill-opacity', 0.25);
        body.append('path').datum(fit).attr('d', fitLine)
            .attr('fill', 'none').attr('stroke', c).attr('stroke-width', 6.5)
            .attr('stroke-linejoin', 'round');
    });

    // panel border
    g.append('rect').attr('width', panelW).attr('height', panelH)
        .attr('fill', 'none').attr('stroke', '#333333').attr('stroke-width', 3.5);

    // y axis on first column
    if (col === 0) {
        const ya = g.append('g');
        ya.selectAll('line').data(pctTicks).enter().append('line')
            .attr('x1', -12).attr('x2', 0).attr('y1', (d) => y(d)).attr('y2', (d) => y(d))
            .attr('stroke', '#333333').attr('stroke-width', 3);
        ya.selectAll('text').data(pctTicks).enter().append('text')
            .attr('x', -23).attr('y', (d) => y(d)).attr('dy', '0.35em')
            .attr('text-anchor', 'end').attr('font-size', 49).attr('fill', '#4D4D4D')
            .text(pct);
    }
    // x axis on bottom row
    if (row === 1) {
        const xa = g.append('g').attr('transform', `translate(0,${panelH})`);
        xa.selectAll('line').data(hourTicks).enter().append('line')
            .attr('x1', (d) => x(d)).attr('x2', (d) => x(d)).attr('y1', 0).attr('y2', 12)
            .attr('stroke', '#333333').attr('stroke-width', 3);
        xa.selectAll('text').data(hourTicks).enter().append('text')
            .attr('transform', (d) => `translate(${x(d)},22) rotate(-90)`)
            .attr('dy', '0.35em').attr('text-anchor', 'end')
            .attr('font-size', 49).attr('fill', '#4D4D4D')
            .text((d) => d);
    }
});

// titles
svg.append('text').attr('x', left0).attr('y', 79)
    .attr('font-size', 75).attr('fill', '#000')
    .text('Diel P and Specific Conductivity patterns from PFLUX data');
svg.append('text').attr('x', (left0 + left0 + 5 * colStep + panelW) / 2).attr('y', 2370)
    .attr('text-anchor', 'middle').attr('font-size', 58).attr('fill', '#000')
    .text('Hour');
svg.append('text')
    .attr('transform', `translate(64,${(top0 + stripH + top0 + rowStep + stripH + panelH) / 2}) rotate(-90)`)
    .attr('text-anchor', 'middle').attr('font-size', 58).attr('fill', '#000')
    .text('Deviation from Daily Median (%)');
</script>
</body>
</html>
